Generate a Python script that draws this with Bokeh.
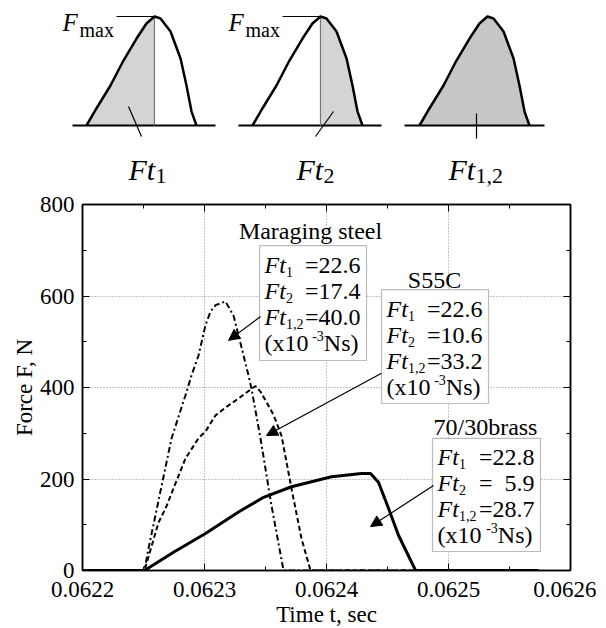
from bokeh.plotting import figure
from bokeh.models import (Range1d, FixedTicker, LinearAxis, Label, BoxAnnotation,
                          Arrow, NormalHead, NumeralTickFormatter, CustomJSTickFormatter)
from bokeh.embed import file_html
from bokeh.resources import INLINE

# ---------------- data ----------------
# Maraging steel (dash-dot)
t_maraging = [0.0622000, 0.0622508, 0.0622541, 0.0622730, 0.0622844, 0.0622893, 0.0622951,
              0.0623008, 0.0623049, 0.0623090, 0.0623172, 0.0623238, 0.0623279, 0.0623320,
              0.0623361, 0.0623385, 0.0623459, 0.0623549, 0.0623648, 0.0625740]
f_maraging = [0, 0, 48, 289, 383, 426, 470, 536, 566, 580, 588, 557, 514, 470, 426, 398, 289,
              142, 0, 0]
# S55C (dashed)
t_s55c = [0.0622000, 0.0622508, 0.0622623, 0.0622680, 0.0622844, 0.0622951, 0.0623008, 0.0623090,
          0.0623197, 0.0623279, 0.0623369, 0.0623418, 0.0623459, 0.0623508, 0.0623566, 0.0623631,
          0.0623713, 0.0623795, 0.0623869, 0.0625740]
f_s55c = [0, 0, 105, 135, 245, 289, 304, 339, 361, 376, 394, 403, 391, 368, 340, 295, 179, 70, 0, 0]
# 70/30 brass (solid)
t_brass = [0.0622000, 0.0622508, 0.0622746, 0.0623008, 0.0623279, 0.0623484, 0.0623713,
           0.0624041, 0.0624287, 0.0624361, 0.0624426, 0.0624508, 0.0624590, 0.0624730, 0.0625738]
f_brass = [0, 0, 40, 81, 128, 160, 183, 205, 212, 212, 193, 136, 77, 0, 0]

materials = ["Maraging steel", "S55C", "70/30brass"]
ft1 = [22.6, 22.6, 22.8]
ft2 = [17.4, 10.6, 5.9]
ft12 = [40.0, 33.2, 28.7]

x_ticks = [0.0622, 0.0623, 0.0624, 0.0625, 0.0626]
x_minor = [0.06225, 0.06235, 0.06245, 0.06255]
y_ticks = [0, 200, 400, 600, 800]
y_minor = [100, 300, 500, 700]

# schematic pulse shape (normalised time, normalised force)
pulse_tau = [0, 0.09, 0.218, 0.336, 0.455, 0.545, 0.618, 0.673, 0.764, 0.855, 0.909, 0.955, 1.0]
pulse_amp = [0, 0.156, 0.367, 0.596, 0.798, 0.936, 1.0, 0.982, 0.862, 0.615, 0.367, 0.128, 0]
PEAK = 6

FONT = "Liberation Serif"
OX, OY = 2, 2          # page position of the first canvas
TOP_H = 191            # height of the schematic strip
W = 596


def lab(fig, x, y, text, size, italic=False, align="left", baseline="alphabetic", xo=0, yo=0):
    fig.add_layout(Label(x=x, y=y, text=text, text_font=FONT, text_font_size=f"{size}px",
                         text_font_style="italic" if italic else "normal",
                         text_align=align, text_baseline=baseline, text_color="black",
                         x_offset=xo, y_offset=yo + round(0.2 * size, 1)))


# ---------------- top schematic (page-pixel coordinates) ----------------
top = figure(width=W, height=TOP_H, x_range=Range1d(OX, OX + W),
             y_range=Range1d(OY + TOP_H, OY), toolbar_location=None, output_backend="svg",
             x_axis_location=None, y_axis_location=None, min_border=0)
top.outline_line_color = None
top.xgrid.visible = False
top.ygrid.visible = False

P_START = [88, 254, 421]
P_W, P_BASE, P_H = 110, 127, 109
BASELINES = [(74, 217), (240, 383), (406, 546)]
SHADES = ["#d4d4d4", "#d4d4d4", "#c6c6c6"]

for i in range(3):
    xs = [P_START[i] + P_W * a for a in pulse_tau]
    ys = [P_BASE - P_H * a for a in pulse_amp]
    px_peak = xs[PEAK]
    if i == 0:
        sx, sy = xs[:PEAK + 1], ys[:PEAK + 1]
    elif i == 1:
        sx, sy = xs[PEAK:], ys[PEAK:]
    else:
        sx, sy = xs, ys
    top.varea(x=sx, y1=sy, y2=[P_BASE] * len(sx), fill_color=SHADES[i])
    b0, b1 = BASELINES[i]
    top.line([b0, b1], [P_BASE, P_BASE], line_color="black", line_width=1.8)
    if i < 2:
        top.line([px_peak, px_peak], [ys[PEAK], P_BASE], line_color="#777777", line_width=1.2)
        top.line([P_START[i] + 30, px_peak], [ys[PEAK], ys[PEAK]], line_color="black",
                 line_width=1)
        lab(top, P_START[i] - 24, 29, "F", 25, italic=True)
        lab(top, P_START[i] - 7, 35, "max", 20)
    top.line(xs, ys, line_color="black", line_width=2.5, line_join="round")

LEADERS = [((130, 108), (143, 138)), ((335, 113), (317, 138)), ((478, 115), (478, 140))]
for (a, b) in LEADERS:
    top.line([a[0], b[0]], [a[1], b[1]], line_color="black", line_width=1.2)
FT_X = [130, 298, 450]
SUBS = ["1", "2", "1,2"]
for i in range(3):
    lab(top, FT_X[i], 177, "Ft", 30, italic=True)
    lab(top, FT_X[i] + 27, 182, SUBS[i], 22)

# ---------------- main chart ----------------
FRAME_L, FRAME_T, FRAME_W, FRAME_H = 84, 206, 488, 366
p = figure(frame_width=FRAME_W, frame_height=FRAME_H, x_range=Range1d(0.0622, 0.0626),
           y_range=Range1d(0, 800), toolbar_location=None, output_backend="svg",
           min_border_left=FRAME_L - OX, min_border_right=W - (FRAME_L - OX) - FRAME_W,
           min_border_top=FRAME_T - OY - TOP_H, min_border_bottom=54)
p.outline_line_color = "black"
p.outline_line_width = 1.5

xt = FixedTicker(ticks=x_ticks, minor_ticks=x_minor)
yt = FixedTicker(ticks=y_ticks, minor_ticks=y_minor)


def style_axis(ax, ticker, labels=True):
    ax.ticker = ticker
    ax.axis_line_color = "black"
    ax.axis_line_width = 1.5
    ax.major_tick_in = 7
    ax.major_tick_out = 0
    ax.minor_tick_in = 4
    ax.minor_tick_out = 0
    ax.major_tick_line_color = "black"
    ax.minor_tick_line_color = "black"
    if labels:
        ax.major_label_text_font = FONT
        ax.major_label_text_font_size = "23px"
        ax.major_label_text_color = "black"
        ax.axis_label_text_font = FONT
        ax.axis_label_text_font_size = "23px"
        ax.axis_label_text_font_style = "normal"
        ax.axis_label_text_color = "black"
        ax.axis_label_standoff = 0
    else:
        # tick marks only: the mirrored axes carry no tick labels
        ax.formatter = CustomJSTickFormatter(code="return '';")
        ax.major_label_text_font_size = "8px"
        ax.major_label_standoff = 0


style_axis(p.xaxis[0], xt)
p.xaxis[0].formatter = NumeralTickFormatter(format="0.0000")
p.xaxis[0].major_label_standoff = 11
p.xaxis[0].axis_label = "Time t, sec"
p.xaxis[0].axis_label_standoff = 2
style_axis(p.yaxis[0], yt)
p.yaxis[0].major_label_standoff = 8
p.yaxis[0].axis_label = "Force F, N"

ax_top = LinearAxis()
style_axis(ax_top, xt, labels=False)
p.add_layout(ax_top, "above")
ax_right = LinearAxis()
style_axis(ax_right, yt, labels=False)
p.add_layout(ax_right, "right")

p.xgrid.ticker = FixedTicker(ticks=x_ticks[1:-1])
p.ygrid.ticker = FixedTicker(ticks=y_ticks[1:-1])
for g in (p.xgrid, p.ygrid):
    g.grid_line_color = "#8a8a8a"
    g.grid_line_dash = "1 2"
    g.grid_line_width = 1

p.line(t_maraging, f_maraging, line_color="black", line_width=2, line_dash="6 3 2 3")
p.line(t_s55c, f_s55c, line_color="black", line_width=2, line_dash="5 3")
p.line(t_brass, f_brass, line_color="black", line_width=3, line_join="round")

# annotation boxes (data coordinates: left, right, top, bottom)
BOXES = [(0.0623451, 0.0624328, 710, 459),
         (0.0624451, 0.0625328, 614, 365),
         (0.0624869, 0.0625754, 289, 41.5)]
TITLE_POS = [(0.0623869, 732), (0.0624885, 625), (0.0625303, 304)]
ARROWS = [((0.0623459, 555), (0.0623197, 503)),
          ((0.0624451, 431), (0.0623508, 295)),
          ((0.0624877, 186), (0.0624361, 96))]

for i in range(3):
    L, R, T, B = BOXES[i]
    p.add_layout(BoxAnnotation(left=L, right=R, top=T, bottom=B, fill_color="white",
                               fill_alpha=1, line_color="#222222", line_width=1.2))
    lab(p, TITLE_POS[i][0], TITLE_POS[i][1], materials[i], 24, align="center")
    vals = [ft1[i], ft2[i], ft12[i]]
    for j in range(3):
        yb = -(24 + 26 * j)
        lab(p, L, T, "Ft", 24, italic=True, xo=5, yo=yb)
        lab(p, L, T, SUBS[j], 14, xo=26.5, yo=yb - 5)
        s = f"{vals[j]:.1f}"
        if len(s) < 4:
            lab(p, R, T, "=", 24, xo=-61.5, yo=yb)
            lab(p, R, T, s, 24, align="right", xo=-6, yo=yb)
        else:
            lab(p, R, T, "=" + s, 24, align="right", xo=-6, yo=yb)
    yb = -102
    lab(p, L, T, "(x10", 24, xo=5, yo=yb)
    lab(p, R, T, "-3", 14, align="right", xo=-8 - 34.7, yo=yb + 9)
    lab(p, R, T, "Ns)", 24, align="right", xo=-8, yo=yb)
    (xs0, ys0), (xe0, ye0) = ARROWS[i]
    p.add_layout(Arrow(x_start=xs0, y_start=ys0, x_end=xe0, y_end=ye0, line_color="black",
                       line_width=1.2,
                       end=NormalHead(size=11, fill_color="black", line_color="black")))

open("out.html", "w").write(file_html([top, p], INLINE))
